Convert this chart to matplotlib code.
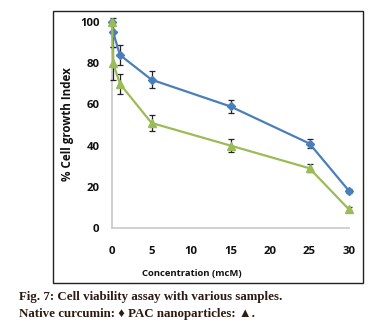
import matplotlib.pyplot as plt
from matplotlib.patches import Rectangle

# concentrations (mcM) and % cell growth index
conc = [0, 0.15, 1, 5, 15, 25, 30]
native = [100, 95, 84, 72, 59, 41, 18]
native_err = [0, 7, 5, 4, 3, 2, 1]
pac = [100, 80, 70, 51, 40, 29, 9]
pac_err = [0, 8, 5, 4, 3, 2, 1]
xticks = [0, 5, 10, 15, 20, 25, 30]
yticks = [0, 20, 40, 60, 80, 100]

blue = '#4a7ebb'
green = '#9bbb59'
cap_col = '#2d1a12'

fig = plt.figure(figsize=(3.77, 3.33), dpi=100)
fig.patches.append(Rectangle((53/377, 1-283/333), 310/377, 272/333,
                             transform=fig.transFigure, fill=False,
                             edgecolor='#222222', linewidth=1.0))

ax = fig.add_axes([112/377, 1-228/333, 237/377, 206/333])
ax.errorbar(conc, native, yerr=native_err, color=blue, lw=1.6, marker='D', ms=4,
            ecolor='#222222', elinewidth=0.9, capsize=2, capthick=0.9, clip_on=False, zorder=3)
ax.errorbar(conc, pac, yerr=pac_err, color=green, lw=1.6, marker='^', ms=5.5,
            ecolor='#222222', elinewidth=0.9, capsize=2, capthick=0.9, clip_on=False, zorder=3)

ax.set_xlim(0, 30)
ax.set_ylim(0, 100)
ax.set_xticks(xticks)
ax.set_yticks(yticks)
for s in ['top', 'right']:
    ax.spines[s].set_visible(False)
for s in ['left', 'bottom']:
    ax.spines[s].set_color('#c8c8c8')
    ax.spines[s].set_linewidth(1.2)
ax.tick_params(length=0)
ax.tick_params(axis='x', pad=13)
ax.tick_params(axis='y', pad=9)
for lab in ax.get_xticklabels() + ax.get_yticklabels():
    lab.set_fontfamily('Open Sans')
    lab.set_fontweight('bold')
    lab.set_fontsize(8.2)
    lab.set_color('#111111')

fig.text(67/377, 1-124/333, '% Cell growth Index', rotation=90, ha='center', va='center',
         family='Open Sans', fontweight='bold', fontsize=8.4, color='#111111')
fig.text(192/377, 1-273/333, 'Concentration (mcM)', ha='center', va='center',
         family='Open Sans', fontweight='bold', fontsize=6.8, color='#111111')

fig.text(19/377, 1-300/333, 'Fig. 7: Cell viability assay with various samples.',
         ha='left', va='baseline', family=['Liberation Serif', 'DejaVu Serif'],
         fontweight='bold', fontsize=9.3, color=cap_col)
fig.text(19/377, 1-317/333, 'Native curcumin: \u2666 PAC nanoparticles: \u25b2.',
         ha='left', va='baseline', family=['Liberation Serif', 'DejaVu Serif'],
         fontweight='bold', fontsize=9.3, color=cap_col)

fig.savefig('out.png', dpi=100)
